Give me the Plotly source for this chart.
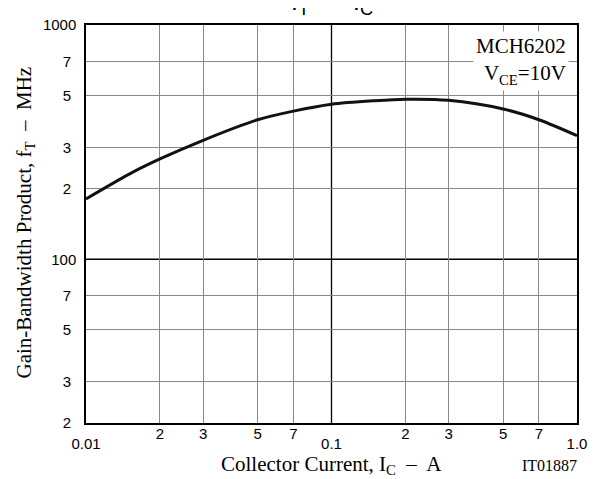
import plotly.graph_objects as go
import math

# Data
ic_a = [0.01, 0.015, 0.02, 0.03, 0.05, 0.07, 0.1, 0.15, 0.2, 0.3, 0.5, 0.7, 1.0]
ft_mhz = [181, 231, 268, 322, 394, 429, 459, 475, 482, 477, 438, 394, 337]

x_major_vals = [0.01, 0.1, 1.0]
x_major_text = ["0.01", "0.1", "1.0"]
x_minor_vals = [0.02, 0.03, 0.05, 0.07, 0.2, 0.3, 0.5, 0.7]
x_minor_text = ["2", "3", "5", "7", "2", "3", "5", "7"]
y_major_vals = [100, 1000]
y_major_text = ["100", "1000"]
y_minor_vals = [20, 30, 50, 70, 200, 300, 500, 700]
y_minor_text = ["2", "3", "5", "7", "2", "3", "5", "7"]

GRID = "#888888"
sans = "Liberation Sans, Arial, sans-serif"
serif = "Liberation Serif, Times New Roman, serif"
y_range = [math.log10(20), 3]

fig = go.Figure()
fig.add_trace(go.Scatter(x=ic_a, y=ft_mhz, mode="lines",
                         line=dict(color="#111111", width=3, shape="spline", smoothing=0.8),
                         hoverinfo="skip", showlegend=False))
fig.add_trace(go.Scatter(x=[0.01, 1.0], y=[20, 20], mode="lines", xaxis="x2", yaxis="y",
                         line=dict(color="rgba(0,0,0,0)"), hoverinfo="skip", showlegend=False))
fig.add_trace(go.Scatter(x=[0.01, 1.0], y=[20, 20], mode="lines", xaxis="x", yaxis="y2",
                         line=dict(color="rgba(0,0,0,0)"), hoverinfo="skip", showlegend=False))

# decade lines in black
fig.add_shape(type="line", xref="x", yref="paper", x0=0.1, x1=0.1, y0=0, y1=1,
              line=dict(color="black", width=1.3), layer="below")
fig.add_shape(type="line", xref="paper", yref="y", x0=0, x1=1, y0=100, y1=100,
              line=dict(color="black", width=1.3), layer="below")

# page body has an 8px margin: figure is sized/offset to compensate
fig.update_layout(
    width=596, height=471,
    margin=dict(l=78, r=27, t=8, b=56),
    plot_bgcolor="white", paper_bgcolor="white",
    showlegend=False,
    xaxis=dict(type="log", range=[-2, 0], tickvals=x_major_vals, ticktext=x_major_text,
               ticks="outside", ticklen=6, tickcolor="rgba(0,0,0,0)",
               tickfont=dict(family=sans, size=15, color="black"),
               showgrid=False, zeroline=False,
               showline=True, mirror=True, linecolor="black", linewidth=1.5),
    xaxis2=dict(type="log", range=[-2, 0], overlaying="x", matches="x", side="bottom",
                tickvals=x_minor_vals, ticktext=x_minor_text,
                ticks="",
                tickfont=dict(family=sans, size=15, color="black"),
                showgrid=True, gridcolor=GRID, gridwidth=1.2, zeroline=False, showline=False),
    yaxis=dict(type="log", range=y_range, tickvals=y_major_vals, ticktext=y_major_text,
               ticks="outside", ticklen=5, tickcolor="rgba(0,0,0,0)",
               tickfont=dict(family=sans, size=15, color="black"),
               showgrid=False, zeroline=False,
               showline=True, mirror=True, linecolor="black", linewidth=1.5),
    yaxis2=dict(type="log", range=y_range, overlaying="y", matches="y", side="left",
                tickvals=y_minor_vals, ticktext=y_minor_text,
                ticks="outside", ticklen=11, tickcolor="rgba(0,0,0,0)",
                tickfont=dict(family=sans, size=15, color="black"),
                showgrid=True, gridcolor=GRID, gridwidth=1.2, zeroline=False, showline=False),
)

fig.add_annotation(xref="paper", yref="paper", x=-0.124, y=0.504, xanchor="center", yanchor="middle",
                   text="Gain-Bandwidth Product, f<sub>T</sub>  –  MHz", textangle=-90,
                   showarrow=False, font=dict(family=serif, size=21, color="black"))
fig.add_annotation(xref="paper", yref="paper", x=0.499, y=-0.105, xanchor="center", yanchor="middle",
                   text="Collector Current, I<sub>C</sub>  –  A",
                   showarrow=False, font=dict(family=serif, size=21, color="black"))
fig.add_annotation(xref="paper", yref="paper", x=0.943, y=-0.106, xanchor="center", yanchor="middle",
                   text="IT01887", showarrow=False, font=dict(family=serif, size=16, color="black"))
fig.add_annotation(xref="paper", yref="paper", x=0.984, y=0.985, xanchor="right", yanchor="top",
                   text="MCH6202<br>V<sub>CE</sub>=10V", align="right", bgcolor="white",
                   borderpad=2, showarrow=False, font=dict(family=serif, size=21, color="black"))
fig.add_annotation(xref="paper", yref="paper", x=0.50, y=1.01, xanchor="center", yanchor="bottom",
                   text="f<sub>T</sub>  –  I<sub>C</sub>", showarrow=False,
                   font=dict(family=sans, size=26, color="black"))

fig.write_html("out.html")
